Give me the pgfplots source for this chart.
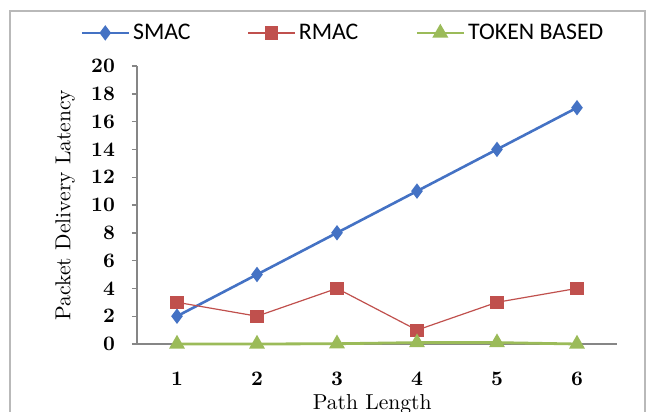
\documentclass[border=0pt]{standalone}
\usepackage{fontspec}
\usepackage{pgfplots}
\pgfplotsset{compat=1.18}
\newfontfamily\legfont{Carlito}
\definecolor{sblue}{RGB}{68,114,196}
\definecolor{rred}{RGB}{192,80,77}
\definecolor{tgreen}{RGB}{155,187,89}
\definecolor{axgray}{RGB}{134,134,134}
\definecolor{bordergray}{RGB}{185,185,185}
\begin{document}
\begin{tikzpicture}
\path[use as bounding box] (0,0) rectangle (324pt,206pt);
\draw[bordergray, line width=0.8pt] (5pt,0pt) -- (5pt,200.5pt) -- (322.5pt,200.5pt) -- (322.5pt,0pt);
\begin{axis}[
  at={(68.5pt,34pt)}, anchor=south west,
  scale only axis, width=240pt, height=139pt,
  xmin=0.5, xmax=6.5, ymin=0, ymax=20,
  xtick={1,2,3,4,5,6}, ytick={0,2,...,20},
  axis x line*=bottom, axis y line*=left,
  x axis line style={-}, y axis line style={-},
  axis line style={axgray, line width=0.7pt},
  major x tick style={draw=none},
  major y tick style={axgray, line width=0.7pt},
  tick align=outside, major tick length=2.5pt,
  /pgf/number format/assume math mode=true,
  ticklabel style={font=\fontsize{10.3}{12}\selectfont\bfseries},
  xticklabel style={yshift=-8pt},
  yticklabel style={xshift=-5pt},
  xlabel={Path Length}, ylabel={Packet Delivery Latency},
  xlabel style={font=\fontsize{10.8}{13}\selectfont, at={(axis description cs:0.49,-0.235)}, anchor=base},
  ylabel style={font=\fontsize{10.8}{13}\selectfont, at={(axis description cs:-0.15,0.5)}, anchor=center},
  legend columns=3,
  legend style={draw=none, fill=none, at={(axis description cs:0.43,1.119)}, anchor=center,
    font=\legfont\fontsize{11.9}{13}\selectfont,
    /tikz/every odd column/.append style={column sep=0pt},
    /tikz/every even column/.append style={column sep=27pt},
    nodes={inner sep=1.5pt}},
  legend image code/.code={\draw[mark repeat=2,mark phase=2,#1] plot coordinates {(0pt,0pt) (11.75pt,0pt) (23.5pt,0pt)};},
  clip=false,
]
\addplot[color=sblue, line width=1.3pt, mark=diamond*, mark size=2.8pt, mark options={solid, fill=sblue}]
  coordinates {(1,2) (2,5) (3,8) (4,11) (5,14) (6,17)};
\addlegendentry{SMAC}
\addplot[color=rred, line width=0.6pt, mark=square*, mark size=3pt, mark options={solid, fill=rred}]
  coordinates {(1,3) (2,2) (3,4) (4,1) (5,3) (6,4)};
\addlegendentry{RMAC}
\addplot[color=tgreen, line width=1.4pt, mark=triangle*, mark size=3.2pt, mark options={solid, fill=tgreen}]
  coordinates {(1,0) (2,0) (3,0.02) (4,0.1) (5,0.1) (6,0)};
\addlegendentry{TOKEN BASED}
\end{axis}
\end{tikzpicture}
\end{document}
